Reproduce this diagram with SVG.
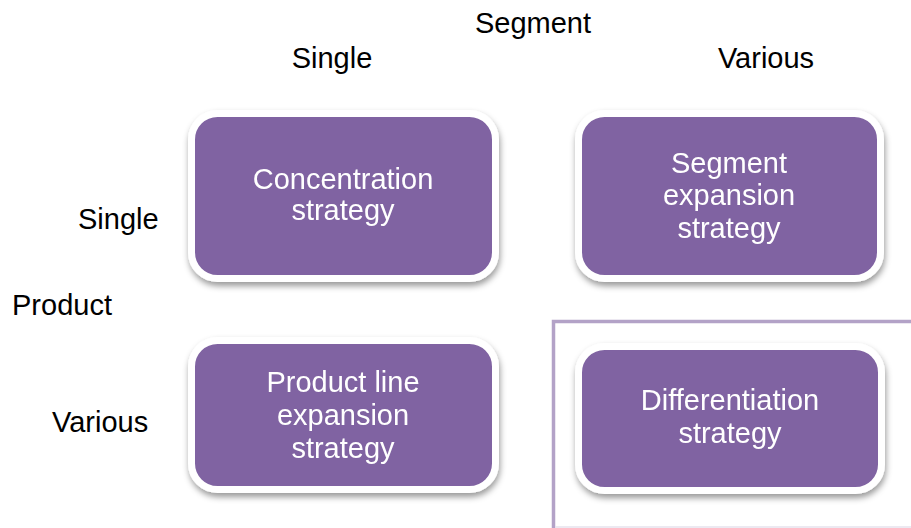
<svg xmlns="http://www.w3.org/2000/svg" width="911" height="528" viewBox="0 0 911 528">
<style>
.lbl{font-family:"Liberation Sans",Arial,sans-serif;font-size:29px;fill:#000000}
.box{fill:#8064a2;stroke:#ffffff;stroke-width:7}
.bt{font-family:"Liberation Sans",Arial,sans-serif;font-size:29px;fill:#ffffff;text-anchor:middle}
</style>
<defs>
<filter id="sh" x="-10%" y="-10%" width="125%" height="130%">
<feDropShadow dx="1" dy="4" stdDeviation="3" flood-color="#000000" flood-opacity="0.4"/>
</filter>
</defs>
<rect width="911" height="528" fill="#ffffff"/>
<g id="frame">
<path d="M553.5 528 V321.5 H911" fill="none" stroke="#b3a2c7" stroke-width="3.5"/>
<line x1="555" y1="527" x2="911" y2="527" stroke="#e6e2ec" stroke-width="1.5"/>
</g>
<g id="labels">
<text class="lbl" x="533" y="33" text-anchor="middle">Segment</text>
<text class="lbl" x="332" y="68" text-anchor="middle">Single</text>
<text class="lbl" x="766" y="68" text-anchor="middle">Various</text>
<text class="lbl" x="78" y="229">Single</text>
<text class="lbl" x="12" y="315">Product</text>
<text class="lbl" x="52" y="432">Various</text>
</g>
<g id="concentration" filter="url(#sh)">
<rect class="box" x="191.5" y="113.5" width="304" height="165" rx="26"/>
<text class="bt" x="343" y="189">Concentration</text>
<text class="bt" x="343" y="220">strategy</text>
</g>
<g id="segment-expansion" filter="url(#sh)">
<rect class="box" x="578.5" y="113.5" width="302" height="165" rx="26"/>
<text class="bt" x="729" y="173">Segment</text>
<text class="bt" x="729" y="205">expansion</text>
<text class="bt" x="729" y="238">strategy</text>
</g>
<g id="product-line-expansion" filter="url(#sh)">
<rect class="box" x="191.5" y="340.5" width="304" height="149" rx="26"/>
<text class="bt" x="343" y="392">Product line</text>
<text class="bt" x="343" y="425">expansion</text>
<text class="bt" x="343" y="458">strategy</text>
</g>
<g id="differentiation" filter="url(#sh)">
<rect class="box" x="578.5" y="346.5" width="303" height="144" rx="26"/>
<text class="bt" x="730" y="410">Differentiation</text>
<text class="bt" x="730" y="443">strategy</text>
</g>
<g id="connectors"></g>
</svg>
